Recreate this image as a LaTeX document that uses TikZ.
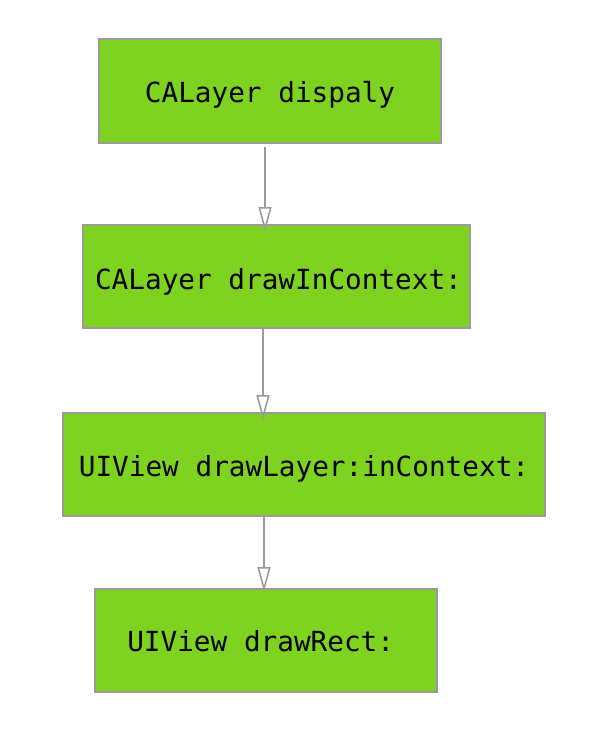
\documentclass[tikz,border=0pt]{standalone}
\usepackage{fontspec}
\setmonofont{DejaVu Sans Mono}
\usetikzlibrary{arrows.meta}
\definecolor{boxgreen}{HTML}{7ED321}
\definecolor{edgegray}{HTML}{9B9B9B}
\tikzset{
  stepbox/.style={draw=edgegray, line width=2pt, fill=boxgreen, rectangle,
    inner sep=0pt, text height=24pt, text depth=0pt,
    font=\ttfamily\fontsize{27.7}{33}\selectfont},
  arr/.style={draw=edgegray, line width=1.6pt,
    -{Triangle[open, length=25pt, width=13pt, line width=1.6pt]}, shorten >=-8pt}
}
\begin{document}
\begin{tikzpicture}[x=1pt,y=-1pt]
\useasboundingbox (0,0) rectangle (608,746);
\node[stepbox, minimum width=342pt, minimum height=104pt] (b1) at (270,91) {CALayer dispaly};
\node[stepbox, minimum width=387pt, minimum height=103pt, text height=26pt] (b2) at (276.5,276.5) {\hspace*{4pt}CALayer drawInContext:};
\node[stepbox, minimum width=482pt, minimum height=103pt] (b3) at (304,464.5) {UIView drawLayer:inContext:};
\node[stepbox, minimum width=342pt, minimum height=103pt, text height=22pt] (b4) at (266,640.5) {\hspace*{-10.6pt}UIView drawRect:};
\draw[arr] ([xshift=-5pt,yshift=-3pt]b1.south) -- ([xshift=-11.5pt]b2.north);
\draw[arr] ([xshift=-13.5pt]b2.south) -- ([xshift=-41pt]b3.north);
\draw[arr] ([xshift=-40pt]b3.south) -- ([xshift=-2pt,yshift=4pt]b4.north);
\end{tikzpicture}
\end{document}
